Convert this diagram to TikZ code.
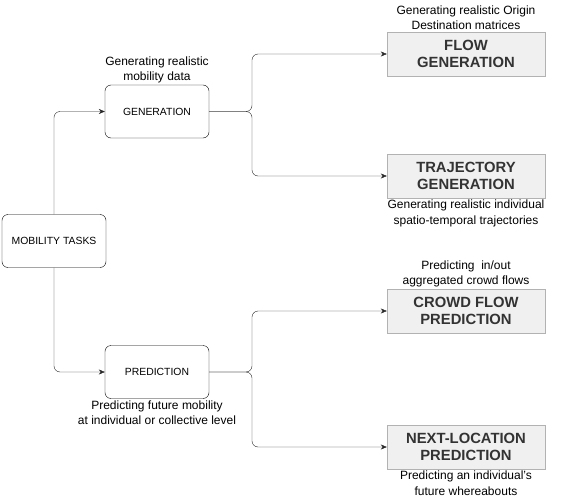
\documentclass[tikz,border=0pt]{standalone}
\usepackage{fontspec}
\setmainfont{Liberation Sans}
\usetikzlibrary{arrows.meta,positioning}

\begin{document}
\begin{tikzpicture}[x=1pt,y=-1pt,
    task/.style={draw, rounded corners=6pt, minimum width=104pt, minimum height=53pt,
        font=\fontsize{10.4}{12}\selectfont},
    sub/.style={draw=gray!60, fill=gray!12, minimum width=158pt, minimum height=44pt,
        align=center, text=black!80, font=\fontsize{14.8}{17}\selectfont\bfseries},
    note/.style={align=center, inner sep=1.5pt, font=\fontsize{12}{15.5}\selectfont},
    link/.style={draw=black!85, -{Stealth[length=6pt,width=5pt]}, rounded corners=6pt}]
    \useasboundingbox (0,0) rectangle (581,503);

    % Main boxes
    \node[task] (mob) at (54,241) {MOBILITY TASKS};
    \node[task] (gen) at (157,111.5) {GENERATION};
    \node[task] (pred) at (157,372) {PREDICTION};

    % Sub-tasks
    \node[sub] (flow) at (466,54) {FLOW\\GENERATION};
    \node[sub] (traj) at (466,176) {TRAJECTORY\\GENERATION};
    \node[sub] (crowd) at (466,311) {CROWD FLOW\\PREDICTION};
    \node[sub] (next) at (466,447) {NEXT-LOCATION\\PREDICTION};

    % Split points
    \coordinate (gensplit) at (252,111.5);
    \coordinate (predsplit) at (252,372);

    % Connectors
    \draw[link] (mob.north) |- (gen.west);
    \draw[link] (mob.south) |- (pred.west);
    \draw[link] (gen.east) -- (gensplit) |- (flow.west);
    \draw[link] (gen.east) -- (gensplit) |- (traj.west);
    \draw[link] (pred.east) -- (predsplit) |- (crowd.west);
    \draw[link] (pred.east) -- (predsplit) |- (next.west);

    % Notes
    \node[note, above=0pt of gen] (gennote) {Generating realistic\\mobility data};
    \node[note, below=0pt of pred] (prednote) {Predicting future mobility\\at individual or collective level};
    \node[note, above=0pt of flow] (flownote) {Generating realistic Origin\\Destination matrices};
    \node[note, below=0pt of traj] (trajnote) {Generating realistic individual\\spatio-temporal trajectories};
    \node[note, above=0pt of crowd] (crowdnote) {Predicting~ in/out\\aggregated crowd flows};
    \node[note, below=0pt of next] (nextnote) {Predicting an individual's\\future whereabouts};
\end{tikzpicture}
\end{document}
